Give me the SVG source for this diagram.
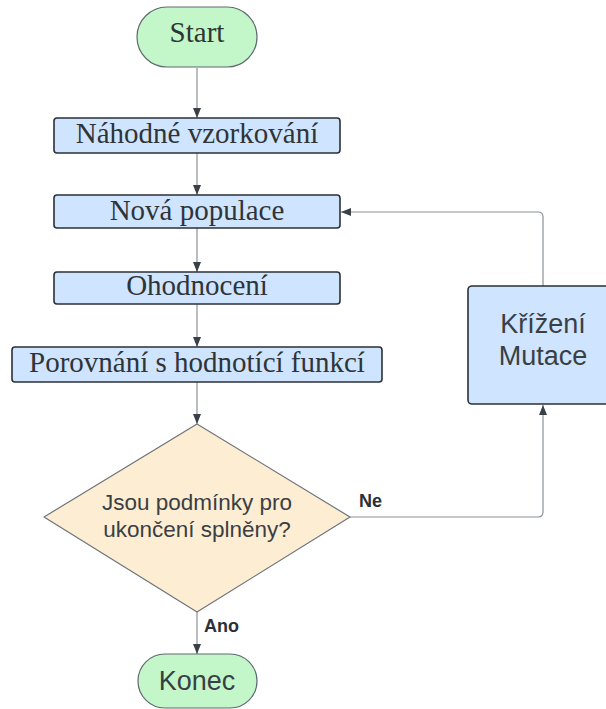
<svg xmlns="http://www.w3.org/2000/svg" width="606" height="709" viewBox="0 0 606 709">
<style>
.term{fill:#c3f6c8;stroke:#5f6b70;stroke-width:1.2}
.box{fill:#cfe4ff;stroke:#2b3136;stroke-width:1.6}
.dia{fill:#fdedd3;stroke:#6e7479;stroke-width:1.2}
.serif{font-family:"Liberation Serif","Times New Roman",serif;font-size:29px;fill:#2f3437;text-anchor:middle}
.sans{font-family:"Liberation Sans",Arial,sans-serif;fill:#3a3f44;text-anchor:middle}
.lbl{font-family:"Liberation Sans",Arial,sans-serif;font-weight:bold;font-size:18px;fill:#2b3136}
.conn{fill:none;stroke:#8c9297;stroke-width:1.2}
</style>
<defs>
<marker id="arr" viewBox="0 0 10 10" refX="10" refY="5" markerWidth="10" markerHeight="10" markerUnits="userSpaceOnUse" orient="auto">
<path d="M0,1 L10,5 L0,9 Z" fill="#3a4047"/>
</marker>
</defs>
<g id="connectors">
<path class="conn" d="M197,68 V118" marker-end="url(#arr)"/>
<path class="conn" d="M197,153 V195" marker-end="url(#arr)"/>
<path class="conn" d="M197,228 V272" marker-end="url(#arr)"/>
<path class="conn" d="M197,304 V347" marker-end="url(#arr)"/>
<path class="conn" d="M197,382 V424" marker-end="url(#arr)"/>
<path class="conn" d="M197,612 V654" marker-end="url(#arr)"/>
<path class="conn" d="M350,517 H538 Q543,517 543,512 V405" marker-end="url(#arr)"/>
<path class="conn" d="M543,286 V217 Q543,212 538,212 H341" marker-end="url(#arr)"/>
<text class="lbl" x="359" y="507">Ne</text>
<text class="lbl" x="204" y="632">Ano</text>
</g>
<g id="start">
<rect class="term" x="137" y="7" width="120" height="60" rx="30"/>
<text class="serif" x="197" y="42">Start</text>
</g>
<g id="nahodne">
<rect class="box" x="54" y="118" width="286" height="35" rx="3"/>
<text class="serif" x="197" y="143">Náhodné vzorkování</text>
</g>
<g id="nova">
<rect class="box" x="54" y="195" width="286" height="33" rx="3"/>
<text class="serif" x="197" y="220">Nová populace</text>
</g>
<g id="ohodnoceni">
<rect class="box" x="54" y="272" width="286" height="32" rx="3"/>
<text class="serif" x="197" y="295">Ohodnocení</text>
</g>
<g id="porovnani">
<rect class="box" x="12" y="347" width="370" height="35" rx="3"/>
<text class="serif" x="197" y="372">Porovnání s hodnotící funkcí</text>
</g>
<g id="podminky">
<path class="dia" d="M197,424 L350,517 L197,612 L44,517 Z" stroke-linejoin="round"/>
<text class="sans" x="197" y="510" font-size="22.5">Jsou podmínky pro</text>
<text class="sans" x="197" y="537" font-size="22.5">ukončení splněny?</text>
</g>
<g id="krizeni">
<rect class="box" x="468" y="286" width="150" height="118" rx="4"/>
<text class="sans" x="543" y="333" font-size="27">Křížení</text>
<text class="sans" x="543" y="365" font-size="27">Mutace</text>
</g>
<g id="konec">
<rect class="term" x="138" y="654" width="119" height="54" rx="27"/>
<text class="sans" x="197" y="690" font-size="27">Konec</text>
</g>
</svg>
